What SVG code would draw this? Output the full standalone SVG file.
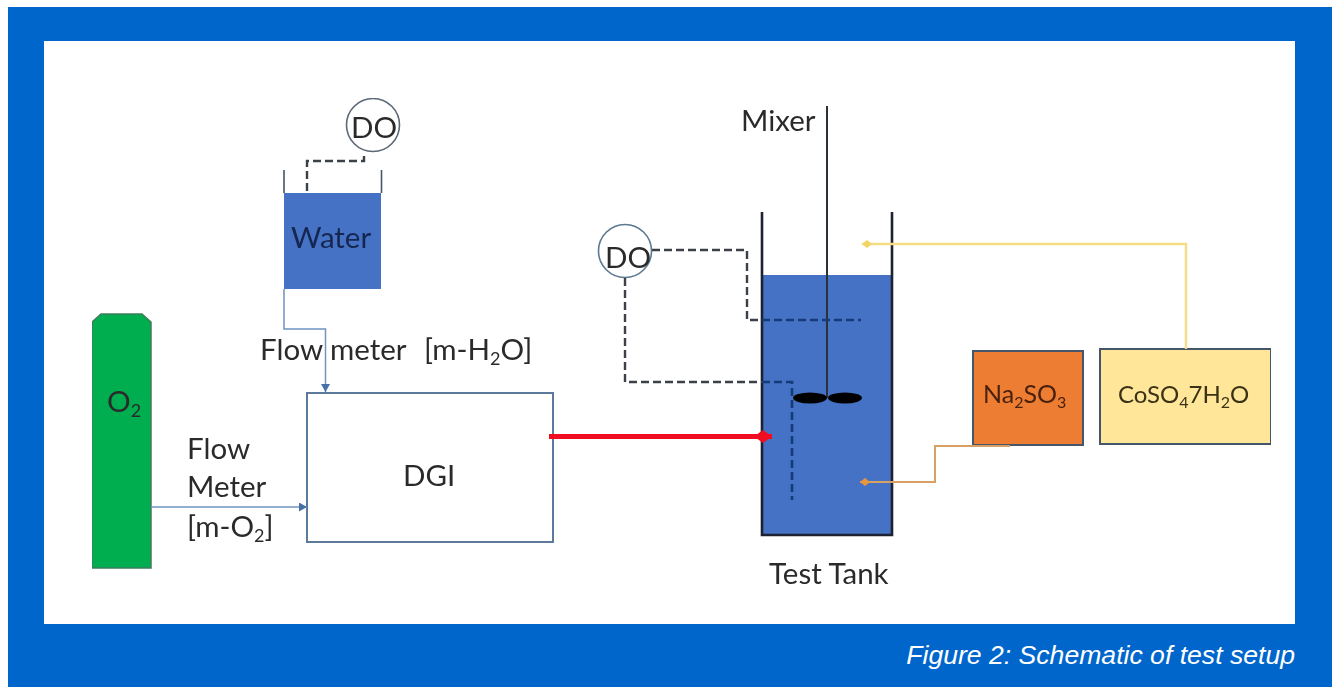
<svg xmlns="http://www.w3.org/2000/svg" width="1332" height="687" viewBox="0 0 1332 687">
<style>
text{font-family:"Lato","Open Sans","Liberation Sans",sans-serif;fill:#2b2b2b;font-size:29.5px}
.sub{font-size:18px}
.caption{font-family:"Liberation Sans",Arial,sans-serif;font-style:italic;font-size:26.6px;fill:#fff}
.dash{fill:none;stroke:#3a3f48;stroke-width:2.4;stroke-dasharray:8 4}
.dashin{fill:none;stroke:#143a78;stroke-width:2.6;stroke-dasharray:8 4}
.wall{fill:none;stroke:#1a2230;stroke-width:2.6}
.thin{fill:none;stroke:#6f93c2;stroke-width:1.5}
.box{stroke:#44546a;stroke-width:2}
</style>
<defs>
<marker id="ab" markerUnits="userSpaceOnUse" markerWidth="10" markerHeight="10" refX="8" refY="4.500" orient="auto"><path d="M0 0L8 4.500L0 9Z" fill="#4472a8"/></marker>
<marker id="ar" markerUnits="userSpaceOnUse" markerWidth="20" markerHeight="16" refX="18" refY="7" orient="auto"><path d="M0 7L9 0.500L18 7L9 13.500Z" fill="#f01020"/></marker>
<marker id="ay" markerUnits="userSpaceOnUse" markerWidth="12" markerHeight="12" refX="10" refY="5" orient="auto"><path d="M0 5L5 1L10 5L5 9Z" fill="#f3d566"/></marker>
<marker id="ao" markerUnits="userSpaceOnUse" markerWidth="12" markerHeight="12" refX="10" refY="5" orient="auto"><path d="M0 5L5 1L10 5L5 9Z" fill="#e8973c"/></marker>
<filter id="soft" x="0" y="0" width="100%" height="100%"><feGaussianBlur stdDeviation="0.6"/></filter>
</defs>
<rect x="8" y="7" width="1324" height="680" fill="#0066cc"/>
<rect x="44" y="41" width="1251" height="583" fill="#fff"/>
<text class="caption" x="1295" y="664" text-anchor="end">Figure 2: Schematic of test setup</text>
<g filter="url(#soft)">
<g id="oxygen-cylinder">
<path d="M92 322L101 314H142L151 322V568H92Z" fill="#00ad50" stroke="#3f7d5c" stroke-width="1.5"/>
<text x="107" y="412">O<tspan class="sub" dy="5">2</tspan></text>
</g>
<g id="water-tank">
<rect x="284" y="193" width="97" height="96" fill="#4472c4"/>
<path d="M284 170V193M381.500 170V193" fill="none" stroke="#44546a" stroke-width="1.600"/>
<text x="291" y="248" style="fill:#14264f">Water</text>
</g>
<g id="do-water">
<circle cx="373" cy="125" r="26.500" fill="#fff" stroke="#5c6876" stroke-width="1.600"/>
<text x="351" y="138">DO</text>
</g>
<g id="dgi">
<rect class="box" x="307" y="393" width="246" height="149" fill="#fff" style="stroke:#5c7a9c"/>
<text x="403" y="486">DGI</text>
</g>
<g id="test-tank">
<rect x="762" y="275" width="130" height="260" fill="#4472c4"/>
<path class="wall" d="M762 212V535H892V212"/>
<path d="M827 106V398" fill="none" stroke="#2a3038" stroke-width="2"/>
<ellipse cx="810" cy="398" rx="17" ry="5.500" fill="#050505"/>
<ellipse cx="845" cy="398" rx="17" ry="5.500" fill="#050505"/>
</g>
<g id="do-tank">
<circle cx="625" cy="251" r="26.500" fill="#fff" stroke="#5c7890" stroke-width="1.600"/>
<text x="605" y="268">DO</text>
</g>
<g id="na2so3">
<rect class="box" x="973" y="351" width="110" height="94" fill="#ed7d31"/>
<text x="983" y="403" style="font-size:25px;fill:#4a2010">Na<tspan style="font-size:16px" dy="5">2</tspan><tspan style="font-size:25px" dy="-5">SO</tspan><tspan style="font-size:16px" dy="5">3</tspan></text>
</g>
<g id="coso4">
<rect class="box" x="1100" y="349" width="171" height="95" fill="#ffe699"/>
<text x="1118" y="403" style="font-size:24px;fill:#3a3018">CoSO<tspan style="font-size:16px" dy="5">4</tspan><tspan style="font-size:24px" dy="-5">7H</tspan><tspan style="font-size:16px" dy="5">2</tspan><tspan style="font-size:24px" dy="-5">O</tspan></text>
</g>
<g id="labels">
<text x="741" y="131">Mixer</text>
<text x="769" y="584">Test Tank</text>
<text x="260" y="360">Flow meter</text>
<text x="424" y="360">[m-H<tspan class="sub" dy="5">2</tspan><tspan dy="-5">O]</tspan></text>
<text x="187" y="459">Flow</text>
<text x="187" y="497">Meter</text>
<text x="187" y="537">[m-O<tspan class="sub" dy="5">2</tspan><tspan dy="-5">]</tspan></text>
</g>
<g id="connectors">
<path class="dash" d="M364 156V161H307V192"/>
<path class="dash" d="M652 250H747V320H762"/>
<path class="dashin" d="M762 320H861"/>
<path class="dash" d="M625 278V382H762"/>
<path class="dashin" d="M762 382H792V500"/>
<path class="thin" d="M284 289V329H325.500V392" marker-end="url(#ab)"/>
<path class="thin" d="M151 507H307" marker-end="url(#ab)"/>
<path d="M549 436.500H772" fill="none" stroke="#f01020" stroke-width="5" marker-end="url(#ar)"/>
<path d="M1186 349V244H862" fill="none" stroke="#f5dc85" stroke-width="2.400" marker-end="url(#ay)"/>
<path d="M1010 446H935V482H860" fill="none" stroke="#d9a066" stroke-width="2" marker-end="url(#ao)"/>
</g>
</g>
</svg>
